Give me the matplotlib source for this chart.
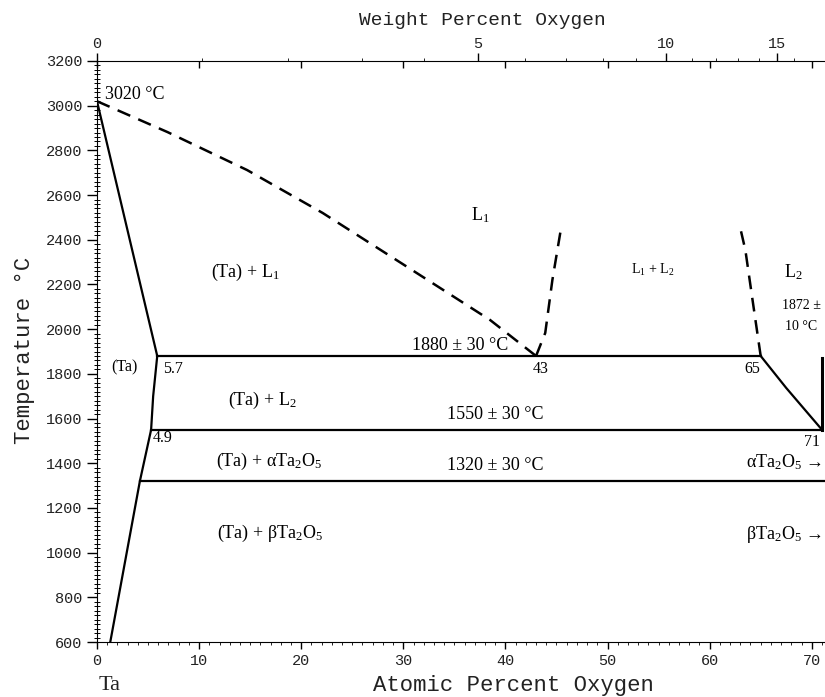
import numpy as np
import matplotlib
matplotlib.use("Agg")
import matplotlib.pyplot as plt
from matplotlib.ticker import MultipleLocator, FixedLocator

# ---- data (atomic percent O, temperature in C) ----
liquidus_x = [0, 6.9, 14.7, 22.1, 30.4, 38.5, 43.0]
liquidus_t = [3020, 2882, 2712, 2520, 2278, 2041, 1880]

solidus_x = [0, 5.9]
solidus_t = [3020, 1880]

solvus_x = [5.9, 5.5, 5.3, 4.2, 1.3]
solvus_t = [1880, 1700, 1550, 1320, 600]

gap_left_x = [43.0, 43.9, 44.6, 45.5]
gap_left_t = [1880, 1983, 2220, 2466]
gap_right_x = [65.0, 64.3, 63.5, 63.0]
gap_right_t = [1880, 2100, 2354, 2453]

l2_x = [65.0, 67.5, 71.0]
l2_t = [1880, 1737, 1550]
oxide_x = [71.0, 71.0]
oxide_t = [1550, 1870]

# invariant lines: (temperature, x start, x end)
iso_t = [1880, 1550, 1320]
iso_x0 = [5.9, 5.3, 4.2]
iso_x1 = [65.0, 71.0, 71.3]

wt_ticks = [0, 5, 10, 15]
at_ticks = [0, 10, 20, 30, 40, 50, 60, 70]
t_ticks = list(range(600, 3201, 200))

M_O, M_TA = 16.0, 180.95


def at_to_wt(a):
    a = np.asarray(a, dtype=float)
    return 100 * M_O * a / (M_O * a + M_TA * (100 - a))


def wt_to_at(w):
    w = np.asarray(w, dtype=float)
    return 100 * (w / M_O) / (w / M_O + (100 - w) / M_TA)


plt.rcParams['mathtext.fontset'] = 'custom'
plt.rcParams['mathtext.rm'] = 'Liberation Serif'
plt.rcParams['mathtext.it'] = 'Liberation Serif:italic'

serif = ['Liberation Serif', 'DejaVu Serif']
mono = ['Liberation Mono', 'DejaVu Sans Mono']
ink = '#222222'

fig = plt.figure(figsize=(8.25, 6.97), dpi=100)
ax = fig.add_axes([97 / 825, 1 - 642 / 697, (825 - 97) / 825, (642 - 61) / 697])

lw = 1.6
ax.plot(liquidus_x, liquidus_t, 'k--', lw=1.8, dashes=(5.5, 3.5))
ax.plot(solidus_x, solidus_t, 'k-', lw=lw)
ax.plot(solvus_x, solvus_t, 'k-', lw=lw)
ax.plot(gap_left_x, gap_left_t, 'k--', lw=1.8, dashes=(5.5, 3.5))
ax.plot(gap_right_x, gap_right_t, 'k--', lw=1.8, dashes=(5.5, 3.5))
ax.plot(l2_x, l2_t, 'k-', lw=lw)
ax.plot(oxide_x, oxide_t, 'k-', lw=2.2)
for t, x0, x1 in zip(iso_t, iso_x0, iso_x1):
    ax.plot([x0, x1], [t, t], 'k-', lw=lw)

ax.set_xlim(0, 71.3)
ax.set_ylim(600, 3200)

# axes / ticks
ax.spines['right'].set_visible(False)
ax.spines['top'].set_visible(False)
ax.xaxis.set_major_locator(FixedLocator(at_ticks))
ax.xaxis.set_minor_locator(MultipleLocator(1))
ax.yaxis.set_major_locator(FixedLocator(t_ticks))
ax.yaxis.set_minor_locator(MultipleLocator(20))
ax.tick_params(axis='y', which='major', direction='out', length=7, width=1)
ax.tick_params(axis='y', which='minor', direction='inout', length=4, width=0.7)
ax.tick_params(axis='x', which='major', direction='out', length=5, width=1)
ax.tick_params(axis='x', which='minor', direction='out', length=2, width=0.6)
for lab in ax.get_xticklabels() + ax.get_yticklabels():
    lab.set_family(mono)
    lab.set_fontsize(11)
    lab.set_color(ink)

# atomic percent marks on the top edge, pointing down
top_at = ax.secondary_xaxis('top')
top_at.set_xticks(at_ticks)
top_at.set_xticklabels([])
top_at.tick_params(which='major', direction='in', length=5, width=1)
top_at.spines['top'].set_visible(False)

sec = ax.secondary_xaxis('top', functions=(at_to_wt, wt_to_at))
sec.set_xticks(wt_ticks)
sec.xaxis.set_minor_locator(FixedLocator(np.arange(0, 16.5, 1)))
sec.tick_params(which='major', direction='out', length=6, width=1, pad=1)
sec.tick_params(which='minor', direction='out', length=2, width=0.6)
for lab in sec.get_xticklabels():
    lab.set_family(mono)
    lab.set_fontsize(11)
    lab.set_color(ink)

# axis titles
fig.text(0.585, 0.971, 'Weight Percent Oxygen', family=mono, fontsize=14,
         ha='center', va='center', color=ink)
fig.text(0.622, 0.017, 'Atomic Percent Oxygen', family=mono, fontsize=16,
         ha='center', va='center', color=ink)
fig.text(0.133, 0.017, 'Ta', family=serif, fontsize=16,
         ha='center', va='center', color=ink)
fig.text(0.030, 0.498, 'Temperature °C', family=mono, fontsize=16,
         ha='center', va='center', rotation=90, color=ink)

# annotations
big = 13
mid = 11.5
small = 10


def note(x, y, s, size=big, ha='center'):
    ax.text(x, y, s, family=serif, fontsize=size, ha=ha, va='center')


note(0.8, 3048, '3020 °C', ha='left')
note(37.5, 2511, 'L$_1$')
note(14.5, 2256, '(Ta) + L$_1$')
note(54.4, 2265, 'L$_1$ + L$_2$', size=small)
note(68.2, 2256, 'L$_2$', size=big)
note(69.0, 2108, '1872 ±', size=small)
note(69.0, 2014, '10 °C', size=small)
note(35.6, 1929, '1880 ± 30 °C')
note(43.5, 1822, '43', size=mid)
note(64.2, 1822, '65', size=mid)
note(7.4, 1822, '5.7', size=mid)
note(2.7, 1831, '(Ta)', size=mid)
note(16.2, 1683, '(Ta) + L$_2$')
note(39.0, 1616, '1550 ± 30 °C')
note(6.4, 1513, '4.9', size=mid)
note(70.0, 1495, '71', size=mid)
note(16.9, 1406, '(Ta) + αTa$_2$O$_5$')
note(39.0, 1392, '1320 ± 30 °C')
note(71.0, 1406, 'αTa$_2$O$_5$ →', ha='right')
note(16.9, 1084, '(Ta) + βTa$_2$O$_5$')
note(71.0, 1079, 'βTa$_2$O$_5$ →', ha='right')

fig.savefig('out.png', dpi=100)
